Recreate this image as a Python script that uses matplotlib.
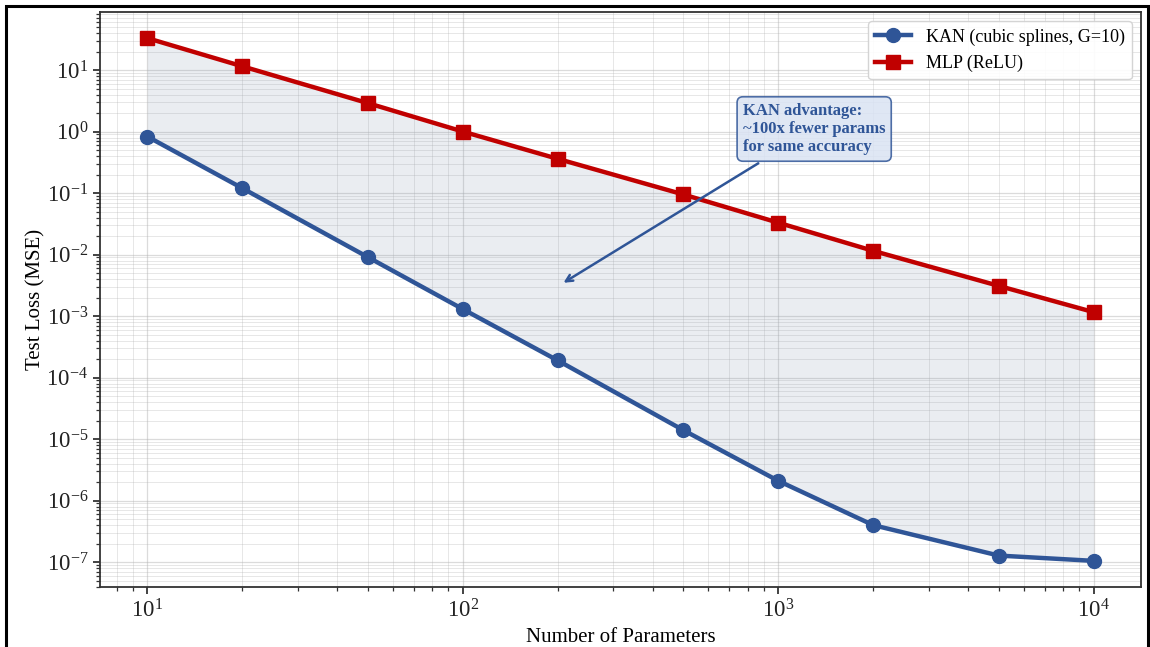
import numpy as np
import matplotlib
matplotlib.use("Agg")
import matplotlib.pyplot as plt
from matplotlib.patches import Rectangle

plt.rcParams['font.family'] = ['Liberation Serif', 'DejaVu Serif']
plt.rcParams['mathtext.fontset'] = 'stix'

# data
n_params = [10, 20, 50, 100, 200, 500, 1000, 2000, 5000, 10000]
kan_loss = [0.83, 0.12, 0.0091, 0.0013, 1.9e-4, 1.4e-5, 2.1e-6, 4.0e-7, 1.28e-7, 1.05e-7]
mlp_loss = [33, 11.5, 2.9, 1.0, 0.36, 0.095, 0.033, 0.0115, 0.0031, 0.00116]

kan_label = "KAN (cubic splines, G=10)"
mlp_label = "MLP (ReLU)"
note = "KAN advantage:\n~100x fewer params\nfor same accuracy"

blue = '#2f5597'
red = '#c00000'

fig = plt.figure(figsize=(11.5, 6.47), dpi=100)
ax = fig.add_axes([100/1150, 60/647, 1041/1150, 575/647])

ax.fill_between(n_params, kan_loss, mlp_loss, color='#8497b0', alpha=0.17, linewidth=0)
ax.plot(n_params, kan_loss, '-o', color=blue, lw=3.2, markersize=10, label=kan_label)
ax.plot(n_params, mlp_loss, '-s', color=red, lw=3.2, markersize=10, label=mlp_label)

ax.set_xscale('log')
ax.set_yscale('log')

ax.grid(True, which='major', color='#b0b0b0', alpha=0.45, lw=0.9)
ax.grid(True, which='minor', color='#b0b0b0', alpha=0.3, lw=0.7)
ax.set_axisbelow(True)

for s in ax.spines.values():
    s.set_color('#333333')
    s.set_linewidth(1.3)
ax.tick_params(which='major', labelsize=16.5, length=5, width=1.2, colors='#222222')
ax.tick_params(which='minor', length=3, width=0.9, colors='#333333')

ax.set_xlabel("Number of Parameters", fontsize=15)
ax.set_ylabel("Test Loss (MSE)", fontsize=15)
ax.yaxis.set_label_coords(-0.052, 0.5)

ax.annotate(note, xy=(205, 3.3e-3), xytext=(1300, 1.1),
            fontsize=12, fontweight='bold', color=blue, ha='center', va='center',
            multialignment='left',
            bbox=dict(boxstyle='round,pad=0.35', fc='#dae3f3', ec=blue, alpha=0.85, lw=1.2),
            arrowprops=dict(arrowstyle='->', color=blue, lw=1.8))

leg = ax.legend(loc='upper right', fontsize=13, framealpha=0.9, edgecolor='#d0d0d0')

fig.patches.append(Rectangle((6/1150, -0.1), 1142/1150, 0.1 + 641/647,
                             transform=fig.transFigure, fill=False, ec='black', lw=2.2))

fig.savefig("out.png", dpi=100)
